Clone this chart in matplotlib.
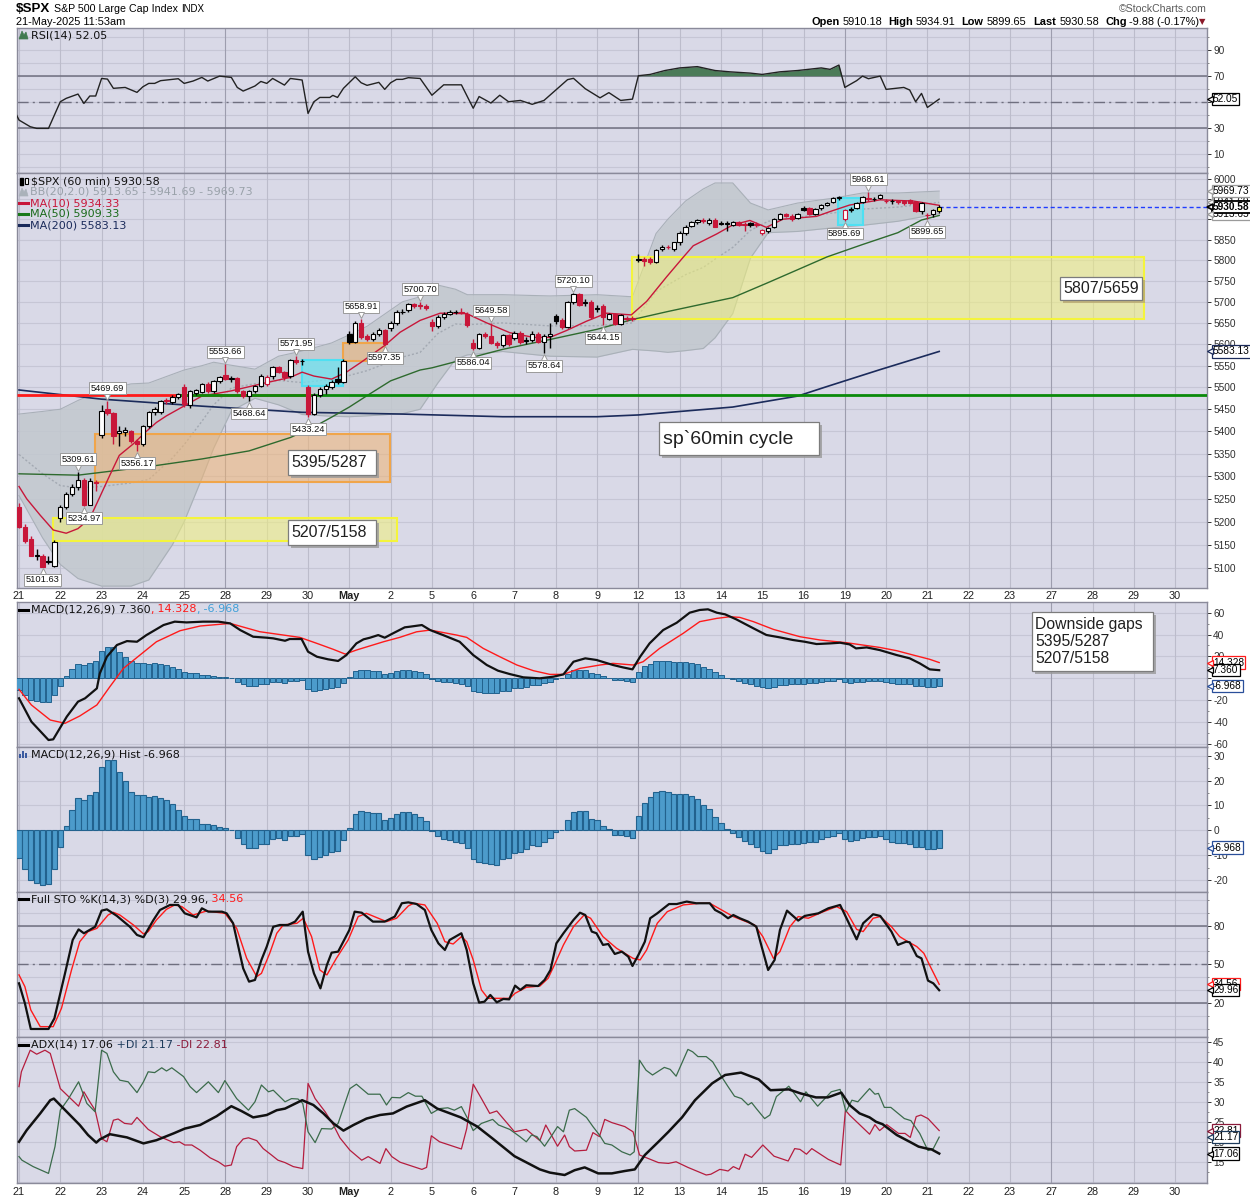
import matplotlib
matplotlib.use("Agg")
import numpy as np
import matplotlib.pyplot as plt
from matplotlib.patches import Rectangle, Polygon
from matplotlib.lines import Line2D
from matplotlib.ticker import FixedLocator, FuncFormatter, NullFormatter, NullLocator
from matplotlib.transforms import IdentityTransform, offset_copy, blended_transform_factory

plt.rcParams["axes.unicode_minus"] = False

# ---------------- data ----------------
BARS_PER_DAY = 7
day_labels = ["21", "22", "23", "24", "25", "28", "29", "30", "May", "2", "5", "6", "7", "8",
              "9", "12", "13", "14", "15", "16", "19", "20", "21", "22", "23", "27", "28",
              "29", "30"]

# hourly candles, one row per trading day (21 Apr .. 21 May)
opens = [
    5232, 5188, 5162, 5126, 5127, 5115, 5104,
    5207, 5232, 5261, 5276, 5292, 5236, 5287,
    5392, 5450, 5441, 5396, 5398, 5400, 5379,
    5372, 5412, 5443, 5444, 5470, 5467, 5478,
    5500, 5460, 5488, 5490, 5507, 5491, 5514,
    5528, 5520, 5521, 5491, 5480, 5491, 5503,
    5507, 5526, 5546, 5535, 5526, 5563, 5560,
    5500, 5440, 5482, 5496, 5500, 5520, 5512,
    5625, 5605, 5650, 5620, 5612, 5624, 5633,
    5638, 5650, 5676, 5680, 5694, 5692, 5690,
    5652, 5643, 5665, 5672, 5675, 5675, 5672,
    5604, 5592, 5623, 5619, 5604, 5598, 5621,
    5615, 5627, 5608, 5610, 5625, 5605, 5620,
    5667, 5658, 5641, 5700, 5718, 5697, 5700,
    5686, 5690, 5660, 5670, 5648, 5662, 5661,
    5803, 5802, 5804, 5795, 5826, 5832, 5826,
    5843, 5867, 5884, 5892, 5897, 5890, 5899,
    5890, 5889, 5887, 5892, 5888, 5890, 5888,
    5867, 5870, 5882, 5901, 5913, 5909, 5903,
    5928, 5928, 5913, 5927, 5935, 5942, 5952,
    5900, 5922, 5928, 5943, 5952, 5950, 5952,
    5946, 5944, 5943, 5945, 5948, 5942, 5920,
    5910.18, 5913, 5920,
]
highs = [
    5240, 5195, 5170, 5140, 5130, 5125, 5160,
    5236, 5265, 5282, 5309.61, 5296, 5296, 5292,
    5460, 5469.69, 5444, 5412, 5410, 5402, 5382,
    5415, 5446, 5455, 5472, 5476, 5482, 5488,
    5508, 5494, 5497, 5510, 5512, 5517, 5527,
    5553.66, 5526, 5524, 5495, 5494, 5506, 5530,
    5528, 5550, 5550, 5538, 5566, 5571.95, 5566,
    5505, 5486, 5500, 5508, 5517, 5546, 5565,
    5630, 5655, 5658.91, 5625, 5628, 5638, 5636,
    5655, 5680, 5682, 5697, 5698, 5700.70, 5694,
    5660, 5668, 5676, 5680, 5680, 5686, 5675,
    5612, 5626, 5628, 5649.58, 5608, 5624, 5624,
    5630, 5630, 5618, 5630, 5628, 5625, 5650,
    5672, 5662, 5703, 5720.10, 5720, 5706, 5704,
    5692, 5694, 5674, 5674, 5672, 5666, 5666,
    5815, 5808, 5808, 5826, 5836, 5836, 5845,
    5870, 5885, 5895, 5900, 5902, 5903, 5902,
    5895, 5895, 5896, 5896, 5894, 5894, 5892,
    5876, 5882, 5904, 5916, 5916, 5912, 5916,
    5932, 5930, 5928, 5937, 5943, 5954, 5958,
    5925, 5930, 5942, 5957, 5968.61, 5955, 5962,
    5950, 5950, 5948, 5948, 5950, 5944, 5942,
    5915, 5925, 5934.91,
]
lows = [
    5186, 5155, 5125, 5118, 5101.63, 5108, 5102,
    5200, 5228, 5256, 5270, 5234.97, 5236, 5268,
    5385, 5436, 5371, 5368, 5390, 5374, 5356.17,
    5368, 5408, 5438, 5440, 5462, 5463, 5474,
    5455, 5452, 5482, 5486, 5488, 5488, 5510,
    5518, 5512, 5488, 5476, 5468.64, 5487, 5500,
    5504, 5520, 5532, 5518, 5522, 5555, 5552,
    5433.24, 5436, 5478, 5484, 5496, 5508, 5510,
    5600, 5602, 5612, 5608, 5608, 5620, 5597.35,
    5630, 5646, 5670, 5676, 5686, 5684, 5680,
    5630, 5638, 5660, 5668, 5670, 5670, 5640,
    5586.04, 5588, 5614, 5600, 5592, 5594, 5596,
    5610, 5600, 5600, 5605, 5602, 5578.64, 5590,
    5648, 5636, 5638, 5696, 5690, 5690, 5660,
    5676, 5644.15, 5656, 5645, 5645, 5655, 5655,
    5795, 5785, 5790, 5792, 5822, 5826, 5822,
    5838, 5862, 5880, 5888, 5890, 5886, 5880,
    5885, 5870, 5884, 5884, 5872, 5882, 5880,
    5862, 5866, 5878, 5898, 5905, 5895, 5900,
    5920, 5910, 5910, 5924, 5932, 5939, 5948,
    5895.69, 5918, 5925, 5940, 5944, 5944, 5950,
    5940, 5938, 5938, 5936, 5938, 5918, 5912,
    5899.65, 5905, 5915,
]
closes = [
    5188, 5158, 5126, 5128, 5103, 5113, 5157,
    5232, 5261, 5276, 5292, 5236, 5290, 5284,
    5446, 5441, 5389, 5400, 5402, 5378, 5372,
    5412, 5443, 5450, 5469, 5468, 5478, 5485,
    5462, 5491, 5493, 5507, 5491, 5514, 5524,
    5520, 5522, 5491, 5480, 5491, 5503, 5526,
    5523, 5546, 5535, 5523, 5563, 5558, 5560,
    5440, 5482, 5496, 5504, 5512, 5512, 5562,
    5605, 5650, 5616, 5612, 5624, 5633, 5601,
    5650, 5676, 5677, 5694, 5690, 5689, 5686,
    5643, 5665, 5672, 5675, 5676, 5674, 5646,
    5592, 5623, 5619, 5604, 5598, 5621, 5600,
    5627, 5605, 5610, 5625, 5605, 5620, 5625,
    5655, 5641, 5700, 5718, 5693, 5700, 5663,
    5684, 5663, 5670, 5648, 5668, 5660, 5659,
    5801, 5799, 5795, 5824, 5832, 5831, 5843,
    5867, 5882, 5892, 5897, 5895, 5899, 5882,
    5889, 5890, 5892, 5887, 5886, 5887, 5885,
    5873, 5878, 5901, 5913, 5909, 5900, 5913,
    5924, 5913, 5925, 5935, 5940, 5952, 5955,
    5922, 5926, 5940, 5955, 5950, 5951, 5960,
    5944, 5945, 5944, 5941, 5940, 5920, 5940.46,
    5910, 5922, 5930.58,
]

# bars that carry a high (h) / low (l) label
hilo_marks = [(4, "l"), (10, "h"), (11, "l"), (15, "h"), (20, "l"), (35, "h"), (39, "l"),
              (47, "h"), (49, "l"), (58, "h"), (62, "l"), (68, "h"), (77, "l"), (80, "h"),
              (89, "l"), (94, "h"), (99, "l"), (140, "l"), (144, "h"), (154, "l")]

# overlays: (bar position, value)
ma10_pts = [(0, 5277), (1.3, 5250), (3.6, 5214), (5.8, 5182), (8, 5175), (10, 5185), (12, 5207),
            (13.7, 5254), (15.4, 5302), (17, 5346), (19.4, 5372), (21.6, 5400), (23.3, 5420),
            (25, 5435), (27, 5450), (31, 5480), (36, 5492), (42, 5511), (46, 5523), (48, 5535),
            (50, 5526), (53, 5519), (55.5, 5535), (58, 5558), (62, 5597), (64.6, 5628),
            (68, 5656), (71.4, 5673), (75.9, 5672), (79.3, 5650), (83.2, 5627), (87.2, 5616),
            (90, 5616), (92.8, 5632), (96.2, 5654), (99.6, 5673), (103.8, 5669), (106.4, 5701),
            (109.8, 5760), (112.6, 5807), (114.3, 5835), (118.3, 5864), (121, 5886),
            (123.9, 5897), (126.7, 5880), (129.5, 5900), (135.2, 5907), (137.5, 5919),
            (140.8, 5935), (146, 5948), (151.6, 5945), (156, 5934.33)]
ma50_pts = [(0, 5305), (10, 5302), (22, 5321), (31, 5338), (39, 5356), (46, 5386), (50, 5410),
            (53, 5432), (56, 5455), (59, 5481), (63, 5515), (65, 5525), (68, 5540), (70, 5545),
            (82, 5588), (90, 5611), (98, 5635), (104, 5658), (110, 5677), (121, 5710),
            (127, 5746), (137, 5808), (143, 5838), (149, 5867), (153, 5898), (156, 5909.33)]
ma200_pts = [(0, 5494), (14, 5473), (31, 5457), (48, 5443), (65, 5439), (82, 5433), (98, 5433),
             (105, 5437), (121, 5455), (132, 5480), (137, 5502), (146, 5541), (156, 5583.13)]
bb_x = [0, 4, 7, 10, 14, 19, 22, 26, 28, 31, 33, 36, 40, 44, 48, 53, 56, 59, 65, 68, 71, 74, 76,
        82, 90, 98, 104, 108, 110, 113, 116, 118, 121, 124, 127, 132, 138, 143, 149, 156]
bb_upper = [5439, 5445, 5450, 5470, 5492, 5508, 5510, 5530, 5540, 5550, 5558, 5551, 5542, 5572,
            5584, 5603, 5622, 5642, 5700, 5712, 5740, 5730, 5717, 5717, 5714, 5717, 5712, 5865,
            5900, 5945, 5975, 5990, 5990, 5940, 5923, 5940, 5952, 5965, 5965, 5969.73]
bb_lower = [5257, 5165, 5108, 5078, 5062, 5062, 5075, 5150, 5200, 5295, 5362, 5446, 5475, 5460,
            5438, 5434, 5433, 5435, 5440, 5450, 5510, 5565, 5575, 5583, 5572, 5570, 5588, 5584,
            5581, 5585, 5590, 5615, 5672, 5805, 5867, 5870, 5879, 5885, 5895, 5913.65]

rsi_pts = [(-0.4, 39.7), (0, 35.9), (1.9, 30.8), (3, 29.5), (5, 29.5), (7, 50), (8, 52.6),
           (10, 55.9), (11, 48.7), (12, 54.4), (13, 54.4), (14, 67.9), (15, 67.4), (16, 60.3),
           (18, 61), (20, 57.2), (21, 61.5), (22, 64.1), (23, 64.1), (24, 66.2), (27, 67.7),
           (28, 64.1), (29.5, 65.9), (31, 68.7), (32, 65.9), (34, 69.7), (36, 68.7), (37, 61),
           (38, 58.2), (40, 62.1), (41, 65.6), (42, 64.1), (43, 67.9), (45, 62.8), (46, 67.9),
           (48, 66.7), (49, 41), (50, 50), (51, 53.3), (52.7, 53.3), (53.2, 54.9), (54, 53.3),
           (55, 60.3), (57, 69.2), (58, 64.6), (59, 62.6), (61, 64.9), (62, 59.5), (63, 64.6),
           (64, 67.2), (65, 67.2), (66, 68.5), (68, 67.9), (70, 55), (72, 63), (75, 63),
           (77, 45), (78, 54), (80, 49), (81.5, 55), (83, 50), (85, 51), (87, 48), (89, 51),
           (91, 59), (93, 67), (94, 68), (96, 60), (98.5, 53), (100, 57), (102, 51), (104, 52),
           (105, 70), (107, 71), (109.5, 74), (112, 76), (115, 77), (118, 74), (120.5, 73),
           (124, 72), (126, 71), (129, 73), (132, 74), (136, 76), (137.5, 74.9), (139, 78.2),
           (140, 61), (142, 66.2), (143, 69.7), (144, 67.7), (146, 69.7), (147, 59.5),
           (150, 61), (151, 59), (152, 50), (153, 56.4), (154, 45.6), (156, 52.05)]

macd_pts = [(0, -18.4), (2.1, -39.8), (5, -56.6), (5.8, -56), (8.1, -35.2), (10, -21.5),
            (11.2, -18.4), (13.2, -9.3), (13.7, 4.4), (14.9, 19.7), (16.6, 30.4), (18.3, 34),
            (20, 33.4), (21.6, 39.5), (24.5, 48.7), (26.4, 51.8), (28.4, 51.1), (31.2, 51.8),
            (33.8, 51.8), (35.8, 50.2), (37.5, 44.1), (39.7, 38), (42, 37.1), (43.1, 36.5),
            (45.1, 34.3), (45.9, 35.9), (47.9, 35.9), (49, 24.3), (50.5, 19.7), (52.4, 17.3),
            (54.1, 15.8), (55.5, 21.2), (57.2, 31.9), (58.4, 35.6), (59.5, 37.1), (60.9, 39.5),
            (62, 37.1), (63.4, 41.1), (65.4, 46.6), (66.3, 47.2), (68.3, 48.7), (69.7, 44.1),
            (71.9, 39.5), (74.7, 33.4), (77, 21.2), (79.3, 12.1), (81.2, 6.9), (83.2, 3.8),
            (85.5, 0.8), (88.3, -0.1), (90.6, 1.4), (92.3, 3.5), (94, 15.1), (96, 18.2),
            (97.9, 16.7), (100.7, 12.1), (102.4, 9.9), (104, 8.1), (105.3, 19.7), (106.9, 31.9),
            (109.2, 44.1), (111.5, 50.8), (113.7, 60), (115.4, 62.5), (116.8, 63.1),
            (118.3, 60), (119.7, 58.5), (121.6, 53.9), (124.5, 45.7), (126.7, 39.6),
            (129, 37.4), (131.2, 35), (133.2, 33.4), (135.2, 31.3), (137.5, 31.9),
            (139.2, 32.5), (140.8, 31), (141.9, 27.3), (143.7, 28.2), (145.9, 25.8),
            (148.8, 21.2), (151, 18.2), (152.7, 13.6), (154.4, 8.1), (156, 7.36)]
signal_pts = [(0, -10.2), (2.1, -24.5), (5.3, -38.3), (7.8, -41.3), (10.3, -34.6), (13.2, -24.5),
              (15.4, -7.8), (17.7, 9), (20.5, 21.2), (23.3, 33.4), (27.3, 43.5), (30.7, 47.8),
              (35.8, 50.2), (40.8, 42.6), (47.6, 37.4), (50.5, 31.9), (53.3, 26.4),
              (55.3, 22.1), (57.2, 25.8), (61.8, 33.4), (64.6, 37.5), (67.4, 42.5),
              (69.7, 44.1), (74.2, 39.5), (75.9, 37.4), (78.7, 27.3), (81.5, 19.7),
              (84.4, 12.1), (87.2, 6.9), (90, 3.5), (92.3, 3.5), (95.1, 9), (98.5, 12.1),
              (100.7, 13.6), (104.1, 12.1), (105.8, 15.1), (108.6, 27.3), (112.6, 41.1),
              (115.4, 51.8), (118.3, 54.8), (120.5, 56.3), (122.2, 55.7), (124.5, 51.8),
              (127.9, 44.7), (132.4, 38), (135.8, 35), (140.3, 32.5), (145.9, 28.2),
              (148.8, 25.2), (151.6, 21.2), (154.4, 17.3), (156, 14.328)]
macd_hist = [
    -11, -15.5, -20, -21, -22, -21.5, -15.7,
    -6.7, 1.6, 8.1, 12.9, 12.1, 14.1, 15.5,
    25.3, 28.3, 28.3, 23.6, 19.7, 15.5, 14.3,
    14.1, 13.3, 13.7, 12.8, 12, 10.5, 8.3,
    5.6, 4.5, 4.5, 2.5, 2.5, 2.1, 1.3,
    0.9, 0, -3.1, -5.7, -7.1, -7.1, -5.7,
    -5.6, -3.5, -3.1, -4, -2.4, -2.1, -1.3,
    -10.1, -11.5, -10.7, -10.1, -8.8, -8.4, -4,
    0.9, 6.5, 7.9, 7.2, 6.9, 6.9, 4.3,
    4.9, 6.7, 7.2, 7.5, 6.5, 5.3, 3.9,
    -0.3, -2.4, -3.3, -3.7, -4.8, -5.1, -7.1,
    -11.7, -12.8, -13.3, -13.5, -13.9, -11.7, -11.3,
    -9.3, -8.8, -7.7, -6, -6.4, -4.8, -3.2,
    -0.7, 0.3, 4.3, 7.3, 7.9, 7.9, 4.7,
    4.3, 1.6, 0.5, -1.7, -1.7, -2.1, -3.1,
    5.7, 10.9, 13.3, 15.5, 15.9, 15.5, 14.7,
    14.5, 14.5, 13.6, 12.7, 10.1, 8.5, 5.3,
    3.1, 0.5, -1.1, -2.7, -4.4, -5.5, -6.8,
    -8.4, -9.1, -7.7, -6, -6, -5.7, -5.7,
    -5.1, -4.8, -4.7, -3.5, -2.8, -2.1, -1.1,
    -3.5, -4.4, -3.7, -3.1, -2.7, -2.7, -2.1,
    -3.5, -4.8, -5.1, -5.1, -5.7, -6.7, -6.7,
    -7.7, -7.7, -6.968,
]

stok_pts = [(0, 35.3), (1, 19.8), (2, 0), (3, 0), (5, 0), (6, 8.2), (7.8, 43), (9.1, 68.8),
            (10.1, 77), (11, 74), (12.9, 79), (14, 91.5), (14.9, 92.5), (16.6, 87.4), (18.8, 79),
            (20, 72.7), (21.1, 70.9), (22.8, 84.3), (23.9, 92), (25.6, 95.9), (27, 95.9),
            (28.1, 89.4), (30.1, 86.3), (31, 93.3), (32.1, 90.7), (34.4, 90.7), (35.2, 89.4),
            (36.3, 81.7), (38, 46.9), (39, 36.6), (40, 37.9), (41.1, 53.4), (42, 63.7),
            (43.1, 79), (44.2, 80.4), (45.6, 80.4), (46.8, 83), (48.1, 90.7), (49, 59.8),
            (50, 43), (51.1, 31.4), (52.2, 49.5), (53, 59), (54.1, 59.8), (56, 76.5),
            (56.9, 90.7), (58.1, 89.9), (60, 83), (62, 83), (63.7, 86.9), (64.9, 97.2),
            (66, 97.9), (67.4, 96.6), (68.8, 92), (69.9, 76.5), (71.1, 66.2), (72.2, 61.1),
            (73, 68.8), (75, 74), (75.9, 61.1), (77, 35.3), (78, 20.4), (78.9, 21.1),
            (79.9, 26.3), (81, 20.6), (82.1, 23.2), (83.1, 22.9), (84.1, 33.5), (85, 30.2),
            (86, 33.8), (88, 33.2), (89.1, 37.9), (90.1, 45.6), (91.1, 66.2), (92.3, 74),
            (94, 84.3), (95.1, 89.9), (96, 88.1), (97.1, 75.3), (97.9, 74), (99, 65),
            (99.9, 65.7), (101, 58), (102.2, 59.8), (103.3, 55.9), (104, 48.7), (105, 57.2),
            (106.1, 67.5), (107, 85.6), (108.2, 89.4), (110.2, 96.6), (111.5, 96.6),
            (113.2, 98.5), (114.8, 97.2), (117.1, 97.2), (118, 92), (119.1, 89.4),
            (120.2, 85.6), (121.1, 88.1), (122.2, 85.6), (123.6, 83), (125, 79.1),
            (125.9, 63.7), (127, 45.6), (128.1, 53.4), (129, 76.5), (130.2, 91.5),
            (132.1, 83.8), (133.2, 87.4), (135.5, 89.4), (137.2, 93.3), (139.2, 95.9),
            (142, 69.3), (143.1, 81.7), (144.8, 88.7), (146, 87.4), (147.9, 75.3), (149, 65),
            (150.4, 67.5), (151, 67), (152.2, 56.4), (153, 54.6), (154.1, 37.4), (155, 35.3),
            (156, 29.96)]
stod_pts = [(0, 41.8), (1, 32.7), (2, 14.7), (3.6, 1.8), (5.8, 1.8), (7.2, 16), (8.9, 45.6),
            (10.3, 67.5), (11.7, 75.3), (13.2, 77.8), (15.1, 88.1), (16, 90.2), (17.1, 88.1),
            (19.4, 80.4), (21.1, 73.5), (21.9, 75.3), (23.3, 84.3), (25, 92.5), (26.4, 95.9),
            (27.6, 94.6), (29.5, 88.1), (31.8, 91.2), (34.9, 89.4), (36.9, 77.8), (38.6, 54.6),
            (40.3, 40.5), (41.1, 43), (42.5, 58.5), (43.7, 74), (44.8, 80.4), (47.1, 81.7),
            (48.2, 85.6), (49.6, 71.4), (51, 45.6), (52.2, 41.8), (53.8, 54.6), (55.8, 68.8),
            (57.5, 86.9), (58.9, 89.4), (62.3, 83), (64, 85.6), (66, 95.1), (66.9, 97.2),
            (68.8, 95.9), (70.9, 81.7), (72.2, 67.5), (73.6, 65.7), (75, 71.4), (75.9, 67.5),
            (77, 53.4), (78.4, 30.2), (79.5, 23.7), (81.5, 23.7), (83.2, 23.7), (84.1, 27.6),
            (86, 32.2), (88.3, 33.2), (89.7, 39.2), (90.9, 50.8), (92.3, 65), (94, 79.1),
            (95.8, 88.1), (96.9, 85.6), (99, 71.4), (101.3, 62.4), (104.1, 54.6),
            (105.3, 53.4), (106.4, 61.1), (108.2, 81.7), (109.9, 90.7), (112.6, 95.9),
            (115.4, 97.2), (117.1, 97.2), (121.1, 86.9), (124.7, 80.4), (126.1, 71.4),
            (127.9, 54.6), (129, 59.8), (130.7, 79.1), (132.1, 86.9), (133.8, 85.6),
            (136.1, 90.2), (138.6, 94.6), (140.3, 90.7), (142, 77), (143.1, 75.3),
            (144.8, 85.6), (146, 86.9), (147.9, 79.1), (149.3, 71.4), (150.4, 68.3),
            (152.2, 63.7), (153.4, 58.5), (154.5, 48.2), (156, 34.56)]

adx_pts = [(0, 20), (1.3, 22.9), (3.6, 27.1), (5.3, 30.4), (5.9, 30.8), (8.1, 27.5), (10.3, 24.2),
           (11.7, 21.7), (13.1, 19.8), (13.7, 20.6), (15.4, 21.9), (18.3, 21.1), (21.1, 19.6),
           (23.3, 20.4), (26.2, 22.1), (28.1, 23.3), (30.7, 24.2), (33.5, 26.4), (36, 28.9),
           (37.7, 27.7), (39.7, 26.1), (42, 26.7), (43.7, 27.9), (45.1, 28.3), (48, 30.4),
           (49.9, 29.2), (51.6, 27.1), (53.3, 24.6), (55, 22.8), (56.7, 24.2), (58.9, 25.8),
           (61.2, 26.7), (63.4, 27.1), (65.7, 28.8), (68.8, 30.4), (70.9, 28.3), (74.9, 26.1),
           (77.7, 23.8), (80.3, 20.8), (84, 16.4), (88.3, 13.1), (90, 12.3), (92.5, 11.7),
           (94.2, 12.9), (95.9, 13.6), (98.2, 12.1), (100.5, 12.1), (102.7, 12.7),
           (104.4, 13.1), (106.1, 16.7), (108.4, 20), (110.1, 22.5), (112.4, 26.1),
           (114.6, 30.4), (117.5, 34.6), (119.7, 36.7), (122.4, 37.3), (125.4, 35.6),
           (127.4, 32.9), (130.5, 33.1), (132.5, 32.1), (135.1, 31.1), (137.1, 31.1),
           (139.4, 32.3), (140.8, 29.2), (142.5, 27.1), (144.2, 26.1), (145.3, 25),
           (146.4, 24.4), (148.8, 21.7), (151, 20), (152.5, 18.8), (153.9, 18.3),
           (154.7, 18.1), (156, 17.06)]
pdi_pts = [(0, 16.3), (0.5, 15.4), (2.4, 13.8), (5, 12.1), (6.1, 18.8), (7, 27.9), (8.4, 30.8),
           (10.1, 35), (11.5, 29.6), (12.9, 27.5), (14, 42.9), (14.9, 42.1), (16, 37.5),
           (17.1, 35.4), (18.5, 35), (20, 32.3), (21.1, 35), (21.9, 37.5), (23, 37.3),
           (24.2, 38.5), (25, 37.7), (25.9, 38.5), (27.9, 36.3), (29, 33.8), (30.1, 32.3),
           (32.1, 35), (33.8, 32.3), (34.9, 35.3), (36.9, 30.8), (38.9, 27.9), (40, 30),
           (41.1, 34.2), (42.3, 32.5), (43.1, 32.9), (45.1, 30), (46.2, 30.8), (47.3, 30.7),
           (48.1, 29.6), (49, 22.5), (50.2, 19.8), (51.3, 23.3), (53, 23.2), (54.1, 24.6),
           (56.1, 33.3), (57.2, 34.4), (59.2, 31.9), (61.2, 31.9), (62.3, 29.2), (63.2, 31.1),
           (64.6, 31), (66, 32.3), (67.2, 31.4), (68.3, 31.4), (69.9, 27.1), (71.3, 28.3),
           (72.7, 28.5), (73.8, 27.9), (75, 28.8), (76.2, 25.4), (77, 22.8), (78.4, 24.6),
           (80.3, 25.6), (81.3, 24.2), (83.2, 23.1), (84.9, 21.3), (86, 20), (86.9, 21.7),
           (87.8, 21.3), (89.1, 18.9), (90.2, 21.3), (91.3, 23.8), (92.3, 22.5), (93.3, 27.9),
           (94.2, 28.3), (96.2, 26.1), (97.3, 23.8), (98.4, 21.7), (99.3, 19.6), (100.5, 19.2),
           (102.2, 17.5), (103.6, 16.7), (104.3, 17.5), (105.2, 40.4), (106.3, 37.9),
           (107.4, 36.7), (109.4, 38.6), (110.4, 38.1), (111.4, 36.4), (113.4, 43.1),
           (114.2, 42.5), (115.1, 41.3), (116.5, 41.3), (117.6, 40), (119.1, 36.3),
           (120.2, 33.8), (121.3, 31.4), (122.5, 30.8), (123.6, 29.2), (124.2, 29.8),
           (125, 28.3), (126.4, 25.8), (127.3, 26.7), (128.4, 31.3), (130.5, 33.9),
           (132.5, 30), (133.4, 32.5), (135.4, 28.9), (137.7, 32.5), (139.2, 33.1),
           (140.2, 27.5), (141.2, 30.4), (142.2, 30), (144.2, 33.3), (145.1, 31.9),
           (145.7, 32.1), (146.7, 28.6), (147.8, 28.6), (150.1, 25.8), (151.2, 25.3),
           (152.7, 22.1), (154.1, 17.8), (155, 18.3), (156, 21.17)]
mdi_pts = [(0, 33.8), (0.4, 37.5), (1.9, 42.9), (3, 41.9), (4.4, 42.9), (5.3, 42.1), (7, 33.3),
           (10.1, 28.9), (11, 32.5), (12, 30), (12.9, 27.9), (14, 20.8), (14.9, 20), (16, 25.4),
           (16.8, 25.7), (17.9, 24.6), (19.1, 24.4), (20, 26.1), (21.9, 23.1), (23.9, 21.3),
           (26.2, 19.8), (27.2, 20), (28.1, 19.2), (29.3, 19.2), (30.7, 17.9), (32.4, 16),
           (33.8, 15), (34.9, 13.9), (36, 14.2), (36.9, 18.8), (38, 20.7), (38.9, 21),
           (40.3, 20.3), (41.4, 18.3), (42.8, 16.7), (43.9, 15.4), (45.1, 14.8), (46.5, 13.8),
           (48.1, 13.3), (49, 34.6), (50.2, 30.8), (51.9, 27.5), (53.3, 24.2), (54.4, 21),
           (56.1, 17.9), (58.1, 15.4), (59.2, 16.3), (61.2, 14.6), (62.2, 18.3), (63.2, 16.3),
           (64.6, 14.9), (68.3, 13.1), (69.1, 13.6), (69.9, 21.5), (71.3, 20), (75, 18.2),
           (75.9, 23.3), (77, 34.4), (78.4, 30.8), (79.8, 27.1), (81, 27.7), (84, 22.5),
           (86, 23.1), (88.3, 20.3), (89.3, 24.2), (91.3, 18.9), (92.5, 21.7), (93.3, 18.8),
           (94.2, 17.7), (96.2, 17.9), (97.3, 22.3), (98.4, 21.3), (99.3, 25.6), (100.5, 24.8),
           (102.7, 23.8), (104.1, 22.5), (105.2, 16.7), (108.4, 14.8), (110.1, 14.6),
           (111.4, 15), (113.4, 13.6), (116.5, 11.7), (117.3, 11.9), (118.8, 13.1),
           (119.6, 12.9), (120.2, 12.7), (121.1, 13.8), (122.1, 13.1), (123.1, 16.9),
           (124.2, 16.1), (126.1, 19.2), (128, 16.4), (130.4, 15.2), (131.5, 18.3),
           (132.4, 18.1), (133.5, 16.9), (134.4, 18.3), (137.2, 15.6), (139.3, 14.2),
           (140.1, 27.9), (140.8, 26.7), (144.2, 21.9), (145.1, 24.3), (145.9, 22.8),
           (147.1, 24.3), (149.1, 22.1), (150.2, 22.1), (151.1, 21.1), (152.1, 26.3),
           (152.9, 26.7), (154.1, 25.8), (156, 22.81)]

# chart annotations drawn by the author
support_level = 5483
gap_zones = [  # (from bar, to bar, low, high, colour)
    (12.9, 62.9, 5287, 5395, "orange"),
    (5.8, 64.1, 5158, 5207, "yellow"),
    (103.9, 190.8, 5659, 5807, "yellow"),
    (55.0, 62.0, 5560, 5604, "orange"),
    (48.0, 55.0, 5503, 5563, "cyan"),
    (138.8, 143.0, 5885, 5952, "cyan"),
]

# ---------------- layout ----------------
W, H = 1250, 1200
BG = "#d9d9e7"
HGRID = "#c6c6d5"
VGRID = "#bcbccb"
VGRID_WEEK = "#9d9dae"
SPINE = "#8a8a9a"
RED = "#c8173a"
LS = "Liberation Sans"
X0, X1 = -0.34, 201.4
week_marks = {5, 15, 20, 25}

fig = plt.figure(figsize=(W / 100, H / 100), dpi=100)
R = fig.canvas.get_renderer()
PIX = IdentityTransform()
day_pos = [BARS_PER_DAY * k for k in range(len(day_labels))]
xb = np.arange(len(closes))


def add_panel(top, bottom):
    ax = fig.add_axes([17 / W, 1 - bottom / H, 1190 / W, (bottom - top) / H])
    ax.set_facecolor(BG)
    ax.set_xlim(X0, X1)
    for s in ax.spines.values():
        s.set_color(SPINE)
        s.set_linewidth(1)
    ax.yaxis.tick_right()
    ax.tick_params(axis="y", which="major", labelsize=7.3, length=3, width=0.7, pad=1.5,
                   colors="#303030", labelfontfamily=LS)
    ax.tick_params(axis="y", which="minor", length=1.5, width=0.6, colors="#707070")
    ax.set_xticks(day_pos)
    ax.tick_params(axis="x", length=0, labelbottom=False)
    for k, d in enumerate(day_pos):
        ax.axvline(d, color=VGRID_WEEK if k in week_marks else VGRID, lw=0.8, zorder=0.5)
    return ax


def hgrid(ax, values):
    for v in values:
        ax.axhline(v, color=HGRID, lw=0.8, zorder=0.4)


def ticks(ax, major, minor, hidden=()):
    ax.yaxis.set_major_locator(FixedLocator(list(major)))
    ax.yaxis.set_major_formatter(
        FuncFormatter(lambda v, p: "" if round(v, 3) in hidden else f"{v:.0f}"))
    ax.yaxis.set_minor_locator(FixedLocator(list(minor)) if minor else NullLocator())
    ax.yaxis.set_minor_formatter(NullFormatter())


def date_labels(ax, pad):
    ax.set_xticklabels(day_labels)
    ax.tick_params(axis="x", labelbottom=True, labelsize=7.8, pad=pad, colors="#202020",
                   labelfontfamily=LS)
    ax.get_xticklabels()[8].set_fontweight("bold")


def tag(ax, y, s, ec, bold=False, lw=0.9):
    bt = blended_transform_factory(ax.transAxes, ax.transData)
    ax.annotate(s, xy=(1, y), xycoords=bt, xytext=(6, 0), textcoords="offset pixels",
                ha="left", va="center", fontsize=7.3, family=LS,
                fontweight="bold" if bold else "normal",
                bbox=dict(boxstyle="square,pad=0.12", fc="white", ec=ec, lw=lw),
                annotation_clip=False, zorder=30)
    ax.plot([1], [y], marker="<", ms=4.5, mfc="white", mec=ec, mew=lw, clip_on=False,
            transform=offset_copy(bt, fig=fig, x=3, y=0, units="dots"), zorder=31)


def rich(X, Y, pieces, size=8, family="DejaVu Sans"):
    for s, col, wt in pieces:
        t = fig.text(X, H - Y, s, transform=PIX, fontsize=size, color=col, fontweight=wt,
                     family=family, ha="left", va="center", zorder=40)
        X += t.get_window_extent(R).width
    return X


def dash(X, Y, color, lw=2.2):
    fig.add_artist(Line2D([X, X + 9], [H - Y, H - Y], transform=PIX, color=color, lw=lw,
                          zorder=40))


def mountain(X, Y, color):
    shape = [(X, Y + 4), (X + 3, Y - 4), (X + 5, Y), (X + 7, Y - 3), (X + 9, Y + 4)]
    fig.add_artist(Polygon([(a, H - b) for a, b in shape], closed=True, transform=PIX,
                           fc=color, ec=color, lw=0.5, zorder=40))


def note(x0, y0, x1, y1, text, size, tx=None, shadow="#9a9a9a"):
    fig.add_artist(Rectangle((x0 + 3, H - y1 - 3), x1 - x0, y1 - y0, transform=PIX,
                             fc=shadow, ec="none", alpha=0.8, zorder=35))
    fig.add_artist(Rectangle((x0, H - y1), x1 - x0, y1 - y0, transform=PIX, fc="white",
                             ec="#7c7c7c", lw=0.9, zorder=36))
    fig.text(tx if tx is not None else x0 + 4, H - (y0 + y1) / 2, text, transform=PIX,
             fontsize=size, family=LS, color="#202020", ha="left",
             va="center", linespacing=1.15, zorder=37)


def pts(p):
    a = np.array(p, dtype=float)
    return a[:, 0], a[:, 1]


# ---------------- RSI ----------------
ax_rsi = add_panel(28, 173)
ax_rsi.set_ylim(-4.8, 106.7)
hgrid(ax_rsi, range(0, 101, 10))
ticks(ax_rsi, [10, 30, 50, 70, 90], [0, 20, 40, 60, 80, 100], hidden=(50,))
ax_rsi.axhline(70, color="#6f6f7f", lw=1.1, zorder=1)
ax_rsi.axhline(30, color="#6f6f7f", lw=1.1, zorder=1)
ax_rsi.axhline(50, color="#6f6f7f", lw=1.0, ls=(0, (8, 3, 1.5, 3)), zorder=1)
rx, rv = pts(rsi_pts)
ax_rsi.fill_between(rx, rv, 70, where=rv > 70, interpolate=True, color="#4b7b58", lw=0,
                    zorder=2)
ax_rsi.plot(rx, rv, color="#222222", lw=1.0, zorder=3)
tag(ax_rsi, rv[-1], f"{rv[-1]:.2f}", "black")

# ---------------- price ----------------
ax_p = add_panel(173, 588)
ax_p.set_yscale("log")
ax_p.set_ylim(5058, 6015)
price_ticks = list(range(5100, 6001, 50))
hgrid(ax_p, price_ticks)
ticks(ax_p, price_ticks, None, hidden=(5900, 5950))
date_labels(ax_p, 2)

bx = np.array(bb_x, dtype=float)
bu = np.array(bb_upper)
bl = np.array(bb_lower)
bm = (bu + bl) / 2
ax_p.fill_between(bx, bl, bu, color="#c2c8ce", alpha=0.85, lw=0, zorder=1)
ax_p.plot(bx, bu, color="#a9b0b8", lw=0.8, zorder=1.2)
ax_p.plot(bx, bl, color="#a9b0b8", lw=0.8, zorder=1.2)
ax_p.plot(bx, bm, color="#a3a9b2", lw=1.0, ls=(0, (1.5, 1.5)), zorder=1.3)

zone_style = {
    "yellow": ("#f2f27a", "#f4f43c", 0.55),
    "orange": ("#f0b473", "#f0a54a", 0.55),
    "cyan": ("#6fe3f1", "#4fe0f2", 0.75),
}
for z0, z1, lo, hi, kind in gap_zones:
    fc, ec, al = zone_style[kind]
    ax_p.add_patch(Rectangle((z0, lo), z1 - z0, hi - lo, fc=fc, alpha=al, lw=0, zorder=2))
    ax_p.add_patch(Rectangle((z0, lo), z1 - z0, hi - lo, fc="none", ec=ec, lw=1.5, zorder=2.1))

for p_, col, lw in [(ma200_pts, "#1b2b5b", 1.2), (ma50_pts, "#2e6a2e", 1.0),
                    (ma10_pts, "#c8173a", 1.0)]:
    mx, mv = pts(p_)
    ax_p.plot(mx, mv, color=col, lw=lw, zorder=3)

ax_p.hlines(support_level, X0, 49.8, color="#ff1a1a", lw=2, zorder=4)
ax_p.hlines(support_level, 27.3, X1, color="#0a8a0a", lw=2, zorder=4.5)

o = np.array(opens, dtype=float)
hh = np.array(highs, dtype=float)
ll = np.array(lows, dtype=float)
c = np.array(closes, dtype=float)
prev = np.r_[o[0], c[:-1]]
edge = ["black" if c[i] >= prev[i] else RED for i in range(len(c))]
face = ["white" if c[i] > o[i] else edge[i] for i in range(len(c))]
face[-1] = "#ffff33"
edge[-1] = "black"
ax_p.vlines(xb, ll, hh, colors=edge, lw=1, zorder=6)
ax_p.bar(xb, np.maximum(np.abs(c - o), 0.9), bottom=np.minimum(o, c), width=0.74, color=face,
         edgecolor=edge, linewidth=0.8, zorder=7)
ax_p.hlines(c[-1], xb[-1], X1, colors="#1f3cff", linestyles=(0, (3, 2)), lw=1, zorder=5)

for i, kind in hilo_marks:
    above = kind == "h"
    v = hh[i] if above else ll[i]
    ax_p.annotate(f"{v:.2f}", xy=(i, v), xytext=(0, 8 if above else -8),
                  textcoords="offset pixels", ha="center", va="bottom" if above else "top",
                  fontsize=6.7, family=LS, color="#111111",
                  bbox=dict(boxstyle="square,pad=0.15", fc="white", ec="#9a9a9a", lw=0.7),
                  zorder=15)
    tri = offset_copy(ax_p.transData, fig=fig, x=0, y=4 if above else -4, units="dots")
    ax_p.plot(i, v, marker="v" if above else "^", ms=4.5, mfc="white", mec="#9a9a9a",
              mew=0.7, transform=tri, zorder=16)

ma10_last = pts(ma10_pts)[1][-1]
ma50_last = pts(ma50_pts)[1][-1]
ma200_last = pts(ma200_pts)[1][-1]
tag(ax_p, bl[-1], f"{bl[-1]:.2f}", "#9a9a9a")
tag(ax_p, bm[-1], f"{bm[-1]:.2f}", "#9a9a9a")
tag(ax_p, bu[-1], f"{bu[-1]:.2f}", "#9a9a9a")
tag(ax_p, c[-1], f"{c[-1]:.2f}", "black", bold=True, lw=1.3)
tag(ax_p, ma200_last, f"{ma200_last:.2f}", "#1b2b5b")

# ---------------- MACD ----------------
ax_m = add_panel(602, 747)
ax_m.set_ylim(-63, 69.8)
hgrid(ax_m, range(-60, 61, 20))
ticks(ax_m, range(-60, 61, 20), range(-50, 61, 20), hidden=(0,))
hv = np.array(macd_hist)
ax_m.bar(xb, hv, width=0.9, color="#4c9bcb", edgecolor="#22628e", linewidth=0.7, zorder=3)
sx, sv = pts(signal_pts)
mx, mv = pts(macd_pts)
ax_m.plot(sx, sv, color="#ff1a1a", lw=1.0, zorder=4)
ax_m.plot(mx, mv, color="#111111", lw=1.6, zorder=5)
tag(ax_m, sv[-1], f"{sv[-1]:.3f}", "#ff1a1a")
tag(ax_m, mv[-1], f"{mv[-1]:.3f}", "black")
tag(ax_m, hv[-1], f"{hv[-1]:.3f}", "#2a4f9a")

# ---------------- MACD histogram ----------------
ax_h = add_panel(747, 892)
ax_h.set_ylim(-24.8, 33.5)
hgrid(ax_h, range(-20, 31, 10))
ticks(ax_h, range(-20, 31, 10), range(-15, 31, 10))
ax_h.bar(xb, hv, width=0.9, color="#4c9bcb", edgecolor="#22628e", linewidth=0.8, zorder=3)
tag(ax_h, hv[-1], f"{hv[-1]:.3f}", "#2a4f9a")

# ---------------- Full stochastics ----------------
ax_s = add_panel(892, 1037)
ax_s.set_ylim(-6.2, 105.9)
hgrid(ax_s, range(0, 101, 10))
ticks(ax_s, [20, 50, 80], [0, 10, 30, 40, 60, 70, 90, 100])
ax_s.axhline(80, color="#6f6f7f", lw=1.1, zorder=1)
ax_s.axhline(20, color="#6f6f7f", lw=1.1, zorder=1)
ax_s.axhline(50, color="#6f6f7f", lw=1.0, ls=(0, (8, 3, 1.5, 3)), zorder=1)
dx, dv = pts(stod_pts)
kx, kv = pts(stok_pts)
ax_s.plot(dx, dv, color="#ff1a1a", lw=1.0, zorder=4)
ax_s.plot(kx, kv, color="#111111", lw=1.6, zorder=5)
tag(ax_s, dv[-1], f"{dv[-1]:.2f}", "#ff1a1a")
tag(ax_s, kv[-1], f"{kv[-1]:.2f}", "black")

# ---------------- ADX ----------------
ax_a = add_panel(1037, 1183)
ax_a.set_ylim(9.7, 46.2)
hgrid(ax_a, range(10, 46, 5))
ticks(ax_a, range(15, 46, 5), [12.5, 17.5, 22.5, 27.5, 32.5, 37.5, 42.5])
date_labels(ax_a, 3)
px_, pv = pts(pdi_pts)
nx_, nv = pts(mdi_pts)
ax_x, av = pts(adx_pts)
ax_a.plot(nx_, nv, color="#b51d3e", lw=0.9, zorder=3)
ax_a.plot(px_, pv, color="#3b6b4b", lw=0.9, zorder=4)
ax_a.plot(ax_x, av, color="#111111", lw=1.8, zorder=5)
tag(ax_a, nv[-1], f"{nv[-1]:.2f}", "#8b1a3a")
tag(ax_a, pv[-1], f"{pv[-1]:.2f}", "#1d3b5b")
tag(ax_a, av[-1], f"{av[-1]:.2f}", "black")

# ---------------- notes drawn on the chart ----------------
note(659, 422, 819, 455, "sp`60min cycle", 14, tx=663)
note(288, 450, 376, 475, "5395/5287", 11.5, tx=291)
note(288, 520, 376, 545, "5207/5158", 11.5, tx=291)
note(1060, 277, 1142, 300, "5807/5659", 11.5, tx=1063, shadow="#b8a870")
note(1032, 612, 1153, 671, "Downside gaps\n5395/5287\n5207/5158", 11.3, tx=1035)

# ---------------- header & legends ----------------
fig.text(16, H - 9, "$SPX", transform=PIX, fontsize=9.6, fontweight="bold", family=LS,
         va="center", ha="left")
fig.text(54, H - 9, "S&P 500 Large Cap Index", transform=PIX, fontsize=7.7, family=LS,
         va="center", ha="left")
fig.text(181, H - 9, "INDX", transform=PIX, fontsize=7, family=LS, va="center", ha="left")
fig.text(16, H - 22, "21-May-2025 11:53am", transform=PIX, fontsize=7.9, family=LS,
         va="center", ha="left")
fig.text(1207, H - 9, "\u00a9StockCharts.com", transform=PIX, fontsize=7.6, family=LS,
         color="#5a5a5a", va="center", ha="right")
for s, xpos, wt in [("Open", 812, "bold"), ("5910.18", 843, "normal"), ("High", 888, "bold"),
                    ("5934.91", 916, "normal"), ("Low", 961, "bold"),
                    ("5899.65", 987, "normal"), ("Last", 1033, "bold"),
                    ("5930.58", 1060, "normal"), ("Chg", 1105, "bold"),
                    ("-9.88 (-0.17%)", 1129, "normal")]:
    fig.text(xpos, H - 22, s, transform=PIX, fontsize=7.9, fontweight=wt, family=LS,
             va="center", ha="left")
fig.text(1199, H - 22, "\u25bc", transform=PIX, fontsize=6, color="#8b1a2a", va="center",
         ha="left")

mountain(19, 35, "#3f7a4f")
rich(31, 35.5, [(f"RSI(14) {rv[-1]:.2f}", "#111111", "normal")])

fig.add_artist(Rectangle((20, H - 185), 3, 7, transform=PIX, fc="black", ec="black", zorder=40))
fig.add_artist(Rectangle((25, H - 184), 3, 6, transform=PIX, fc="white", ec="black", lw=0.8,
                         zorder=40))
rich(31, 181, [(f"$SPX (60 min) {c[-1]:.2f}", "#111111", "normal")])
mountain(19, 192, "#aab2ba")
rich(30, 192, [(f"BB(20,2.0) {bl[-1]:.2f} - {bm[-1]:.2f} - {bu[-1]:.2f}", "#9aa2aa",
                "normal")])
dash(19, 203, "#c8173a")
rich(30, 203, [(f"MA(10) {ma10_last:.2f}", "#c8173a", "normal")])
dash(19, 214, "#1a7a1a")
rich(30, 214, [(f"MA(50) {ma50_last:.2f}", "#1a6a1a", "normal")])
dash(19, 225, "#1b2b5b")
rich(30, 225, [(f"MA(200) {ma200_last:.2f}", "#1b2b5b", "normal")])

dash(19, 609.5, "black")
rich(31, 609.5, [(f"MACD(12,26,9) {mv[-1]:.3f}", "#111111", "normal"),
                 (",", "#ff1a1a", "normal"), (f" {sv[-1]:.3f}", "#ff1a1a", "normal"),
                 (",", "#40a0d8", "normal"), (f" {hv[-1]:.3f}", "#40a0d8", "normal")])
for k, hgt in enumerate([4, 7, 5]):
    fig.add_artist(Rectangle((19 + 3 * k, H - 758), 2.2, hgt, transform=PIX, fc="#3a5aa0",
                             ec="none", zorder=40))
rich(31, 754.5, [(f"MACD(12,26,9) Hist {hv[-1]:.3f}", "#111111", "normal")])
dash(19, 899, "black")
rich(31, 899, [(f"Full STO %K(14,3) %D(3) {kv[-1]:.2f},", "#111111", "normal"),
               (f" {dv[-1]:.2f}", "#ff1a1a", "normal")])
dash(19, 1044.5, "black")
rich(31, 1044.5, [(f"ADX(14) {av[-1]:.2f}", "#111111", "normal"),
                  (f" +DI {pv[-1]:.2f}", "#1d3b5b", "normal"),
                  (f" -DI {nv[-1]:.2f}", "#8b1a3a", "normal")])

fig.savefig("out.png", dpi=100, facecolor="white")
